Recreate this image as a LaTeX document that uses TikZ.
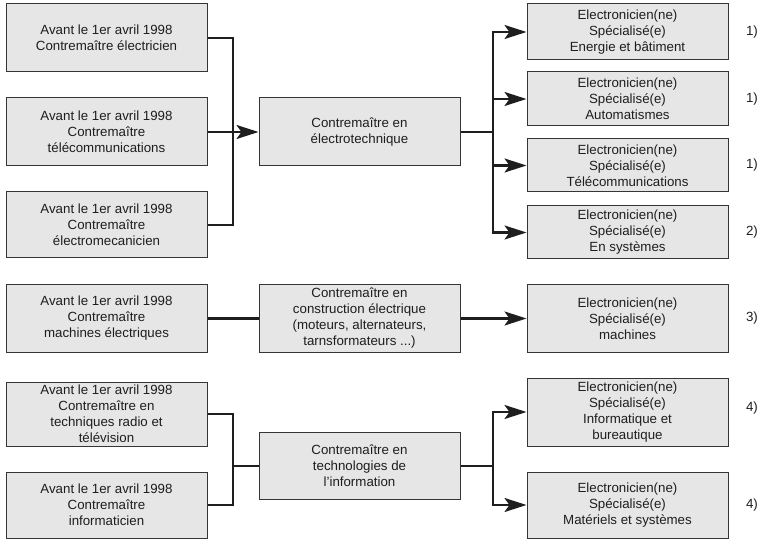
\documentclass[tikz,border=0pt]{standalone}
\usepackage{fontspec}
\setmainfont{Liberation Sans}
\usetikzlibrary{arrows.meta}
\definecolor{boxgray}{HTML}{E6E6E6}
\definecolor{inkgray}{HTML}{1E1E1E}
\begin{document}
\begin{tikzpicture}[x=1pt, y=-1pt,
  box/.style={draw=inkgray!90, line width=1pt, fill=boxgray, minimum width=201pt,
    align=center, inner sep=0pt, text=inkgray, font=\fontsize{13.3}{16}\selectfont},
  link/.style={draw=inkgray, line width=2.3pt},
  arr/.style={-{Stealth[length=22pt, width=14pt, inset=5pt]}},
  tag/.style={text=inkgray, font=\fontsize{13.3}{16}\selectfont}]
\useasboundingbox (0,0) rectangle (761,540);
% Group 1: electrotechnique
\node[box, minimum height=68pt] (l1) at (106.5,38) {Avant le 1er avril 1998\\Contremaître électricien};
\node[box, minimum height=68pt] (l2) at (106.5,132) {Avant le 1er avril 1998\\Contremaître\\télécommunications};
\node[box, minimum height=66pt] (l3) at (106.5,225) {Avant le 1er avril 1998\\Contremaître\\électromecanicien};
\node[box, minimum height=68pt] (m1) at (359.5,132) {Contremaître en\\électrotechnique};
\node[box, minimum height=56pt] (r1) at (627.5,32) {Electronicien(ne)\\Spécialisé(e)\\Energie et bâtiment};
\node[box, minimum height=54pt] (r2) at (627.5,99) {Electronicien(ne)\\Spécialisé(e)\\Automatismes};
\node[box, minimum height=53pt] (r3) at (627.5,165.5) {Electronicien(ne)\\Spécialisé(e)\\Télécommunications};
\node[box, minimum height=53pt] (r4) at (627.5,232.5) {Electronicien(ne)\\Spécialisé(e)\\En systèmes};
% Group 2: construction electrique
\node[box, minimum height=67pt] (l4) at (106.5,318.5) {Avant le 1er avril 1998\\Contremaître\\machines électriques};
\node[box, minimum height=67pt] (m2) at (359.5,318.5) {Contremaître en\\construction électrique\\(moteurs, alternateurs,\\tarnsformateurs ...)};
\node[box, minimum height=67pt] (r5) at (627.5,318.5) {Electronicien(ne)\\Spécialisé(e)\\machines};
% Group 3: technologies de l'information
\node[box, minimum height=64pt] (l5) at (106.5,414) {Avant le 1er avril 1998\\Contremaître en\\techniques radio et\\télévision};
\node[box, minimum height=66pt] (l6) at (106.5,505) {Avant le 1er avril 1998\\Contremaître\\informaticien};
\node[box, minimum height=67pt] (m3) at (359.5,466) {Contremaître en\\technologies de\\l'information};
\node[box, minimum height=68pt] (r6) at (627.5,412) {Electronicien(ne)\\Spécialisé(e)\\Informatique et\\bureautique};
\node[box, minimum height=66pt] (r7) at (627.5,505) {Electronicien(ne)\\Spécialisé(e)\\Matériels et systèmes};
% Notes
\node[tag] (n1) at (752,32) {1)};
\node[tag] (n2) at (752,99) {1)};
\node[tag] (n3) at (752,165.5) {1)};
\node[tag] (n4) at (752,232.5) {2)};
\node[tag] (n5) at (752,318.5) {3)};
\node[tag] (n6) at (752,408) {4)};
\node[tag] (n7) at (752,505) {4)};
% Junctions
\coordinate (ja) at (233,132);
\coordinate (jb) at (493,132);
\coordinate (jc) at (233,466);
\coordinate (jd) at (493,466);
% Connectors
\draw[link] (l1.east) -| (ja) |- (l3.east);
\draw[link, arr] (l2.east) -- (m1.west);
\draw[link] (m1.east) -- (jb);
\draw[link, arr] (jb) |- (r1.west);
\draw[link, arr] (jb) |- (r2.west);
\draw[link, arr] (jb) |- (r3.west);
\draw[link, arr] (jb) |- (r4.west);
\draw[link] (l4.east) -- (m2.west);
\draw[link, arr] (m2.east) -- (r5.west);
\draw[link] (l5.east) -| (jc) |- (l6.east);
\draw[link] (jc) -- (m3.west);
\draw[link] (m3.east) -- (jd);
\draw[link, arr] (jd) |- (r6.west);
\draw[link, arr] (jd) |- (r7.west);
\end{tikzpicture}
\end{document}
